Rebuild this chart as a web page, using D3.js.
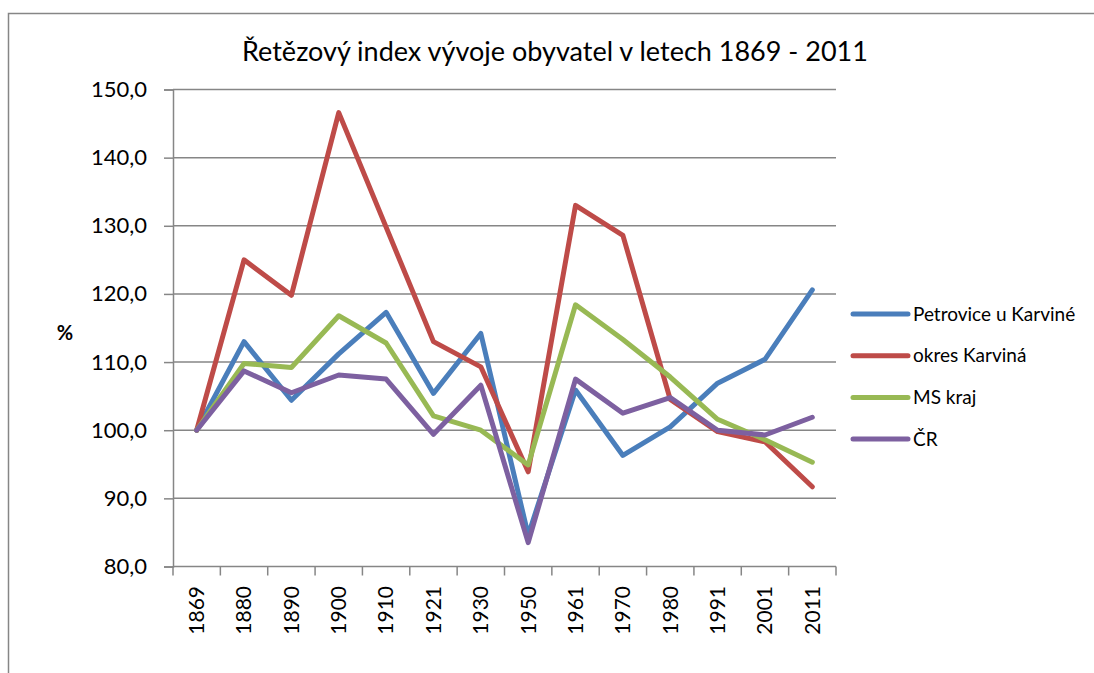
<!DOCTYPE html>
<html>
<head>
<meta charset="utf-8">
<script src="https://cdn.jsdelivr.net/npm/d3@7"></script>
<style>
  body { margin: 0; background: #fff; }
  text { font-family: Lato, "Open Sans", sans-serif; fill: #000; }
</style>
</head>
<body>
<svg id="chart" width="1094" height="673"></svg>
<script>
// categories (census years)
var years = ['1869', '1880', '1890', '1900', '1910', '1921', '1930', '1950', '1961', '1970', '1980', '1991', '2001', '2011'];

// chain index values, %
var petrovice = [100.0, 113.0, 104.4, 111.2, 117.3, 105.4, 114.2, 84.6, 105.9, 96.3, 100.5, 106.9, 110.4, 120.6];
var okresKarvina = [100.0, 125.0, 119.8, 146.6, 129.8, 113.0, 109.3, 93.9, 133.0, 128.6, 104.5, 99.8, 98.3, 91.7];
var msKraj = [100.0, 109.8, 109.2, 116.8, 112.8, 102.1, 100.0, 94.9, 118.4, 113.3, 107.8, 101.6, 98.6, 95.3];
var cr = [100.0, 108.7, 105.5, 108.1, 107.5, 99.4, 106.6, 83.5, 107.5, 102.5, 104.8, 100.0, 99.3, 101.9];

var seriesNames = ['Petrovice u Karviné', 'okres Karviná', 'MS kraj', 'ČR'];
var yTicks = [80, 90, 100, 110, 120, 130, 140, 150];

var series = [
  {name: seriesNames[0], values: petrovice, color: '#4A7EBB'},
  {name: seriesNames[1], values: okresKarvina, color: '#BE4B48'},
  {name: seriesNames[2], values: msKraj, color: '#98B954'},
  {name: seriesNames[3], values: cr, color: '#7D60A0'}
];

var svg = d3.select('#chart');
var gridColor = '#868686';

// outer chart border
svg.append('path')
  .attr('d', 'M8.5,673 V13.5 H1094')
  .attr('fill', 'none')
  .attr('stroke', gridColor)
  .attr('stroke-width', 1.5);

var plot = {left: 173, right: 836, top: 89.5, bottom: 566.5};

var x = d3.scaleBand().domain(years).range([plot.left, plot.right]).padding(0);
var y = d3.scaleLinear().domain([80, 150]).range([plot.bottom, plot.top]);

// title
svg.append('text')
  .attr('x', 555).attr('y', 61)
  .attr('text-anchor', 'middle')
  .style('font-size', '27px')
  .text('Řetězový index vývoje obyvatel v letech 1869 - 2011');

// gridlines
svg.append('g').selectAll('line')
  .data(yTicks.slice(1))
  .join('line')
  .attr('x1', plot.left).attr('x2', plot.right)
  .attr('y1', function(d) { return y(d); })
  .attr('y2', function(d) { return y(d); })
  .attr('stroke', gridColor)
  .attr('stroke-width', 1.5);

// y axis
var yAxis = svg.append('g')
  .attr('transform', 'translate(' + plot.left + ',0)')
  .call(d3.axisLeft(y)
    .tickValues(yTicks)
    .tickSize(9)
    .tickPadding(17)
    .tickFormat(function(d) { return d3.format('.1f')(d).replace('.', ','); }));
yAxis.select('.domain').attr('stroke', gridColor).attr('stroke-width', 1.5);
yAxis.selectAll('.tick line').attr('stroke', gridColor).attr('stroke-width', 1.5);
yAxis.selectAll('.tick text')
  .style('font-size', '22px')
  .style('font-family', 'Lato, sans-serif');

// y axis title
svg.append('text')
  .attr('x', 65).attr('y', 340)
  .attr('text-anchor', 'middle')
  .style('font-size', '20px')
  .style('font-weight', 'bold')
  .text('%');

// x axis line and ticks at band edges
var xAxis = svg.append('g');
xAxis.append('line')
  .attr('x1', plot.left).attr('x2', plot.right)
  .attr('y1', plot.bottom).attr('y2', plot.bottom)
  .attr('stroke', gridColor).attr('stroke-width', 1.5);
var edges = years.map(function(d) { return x(d); }).concat([x.range()[1]]);
xAxis.selectAll('line.tk')
  .data(edges)
  .join('line')
  .attr('class', 'tk')
  .attr('x1', function(d) { return d; }).attr('x2', function(d) { return d; })
  .attr('y1', plot.bottom).attr('y2', plot.bottom + 9)
  .attr('stroke', gridColor).attr('stroke-width', 1.5);
xAxis.selectAll('text')
  .data(years)
  .join('text')
  .attr('transform', function(d) {
    return 'translate(' + (x(d) + x.bandwidth() / 2) + ',586) rotate(-90)';
  })
  .attr('text-anchor', 'end')
  .attr('dy', '0.35em')
  .style('font-size', '21px')
  .text(function(d) { return d; });

// lines
var line = d3.line()
  .x(function(d, i) { return x(years[i]) + x.bandwidth() / 2; })
  .y(function(d) { return y(d); });

svg.append('g').selectAll('path')
  .data(series)
  .join('path')
  .attr('d', function(s) { return line(s.values); })
  .attr('fill', 'none')
  .attr('stroke', function(s) { return s.color; })
  .attr('stroke-width', 5)
  .attr('stroke-linejoin', 'round')
  .attr('stroke-linecap', 'round');

// legend
var legend = svg.append('g').selectAll('g')
  .data(series)
  .join('g')
  .attr('transform', function(s, i) { return 'translate(853,' + (314 + i * 41.7) + ')'; });
legend.append('line')
  .attr('x1', 0).attr('x2', 55)
  .attr('stroke', function(s) { return s.color; })
  .attr('stroke-width', 5)
  .attr('stroke-linecap', 'round');
legend.append('text')
  .attr('x', 60)
  .attr('dy', '0.35em')
  .style('font-size', '19px')
  .text(function(s) { return s.name; });
</script>
</body>
</html>
